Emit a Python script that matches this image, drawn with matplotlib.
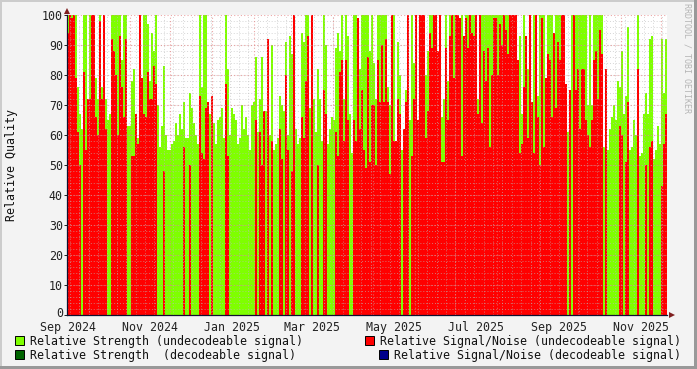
import datetime as dt
import matplotlib
matplotlib.use("Agg")
import matplotlib.pyplot as plt
from matplotlib.patches import Rectangle
from matplotlib.transforms import ScaledTranslation

strength_a = [100,100,100,100,100,76,67,62,100,100,72,100,100,100,79,72,100,76,77,72,65,67,100,100,100,100,100,85,100,100,63,63,78,82,60,59,100,69,100,100,97,78,94,88,100,70,56,63,83,60]
strength_b = [55,55,57,58,64,60,67,62,71,59,59,74,69,64,60,57,100,76,100,100,71,67,73,64,57,65,66,69,59,100,82,60,69,67,65,57,59,70,62,66,60,55,70,71,86,61,72,86,60,68]
strength_c = [72,60,90,55,57,59,73,70,68,91,60,93,87,71,62,57,59,94,91,100,100,69,70,72,61,82,72,58,100,90,57,62,66,65,89,94,88,100,72,100,93,67,54,100,100,61,82,100,100,100]
strength_d = [100,88,100,84,72,100,100,100,100,100,76,70,100,100,56,91,80,55,60,75,100,65,100,84,100,65,100,100,100,80,88,100,100,100,100,66,100,66,72,100,78,100,100,100,100,87,78,100,80,100]
strength_e = [100,100,100,100,100,72,100,100,100,100,100,100,100,100,100,100,100,100,100,100,100,100,100,100,85,78,93,67,100,60,82,75,68,100,100,73,100,100,100,77,100,100,100,68,100,100,100,100,88,73]
strength_f = [61,0,100,100,100,100,100,100,100,100,70,100,70,100,100,100,100,100,56,57,55,62,66,70,65,78,76,88,67,73,96,55,56,65,60,100,53,54,67,74,67,92,93,52,55,63,57,92,74,92]

quality_a = [94,100,99,100,79,61,50,0,81,55,72,72,100,100,66,60,98,72,100,62,0,0,92,88,80,60,93,76,66,92,0,0,53,53,67,57,100,79,67,66,81,72,72,83,77,0,0,0,48,0]
quality_b = [0,0,0,0,0,0,0,0,56,0,0,50,0,0,0,0,73,54,52,69,71,0,73,0,0,0,0,0,0,77,53,0,0,0,0,0,0,0,0,0,0,0,0,0,65,0,61,50,68,0]
quality_c = [92,0,58,0,0,0,62,52,0,80,55,0,48,100,0,0,0,66,59,78,93,0,100,0,0,50,0,0,75,67,0,0,0,0,61,53,81,85,58,85,65,0,0,65,58,99,62,75,55,49]
quality_d = [86,51,70,70,50,85,71,90,71,92,71,47,100,58,58,72,67,0,62,71,100,0,53,72,100,65,100,100,100,59,68,94,89,100,100,88,100,51,51,89,65,93,100,79,100,100,99,53,93,99]
quality_e = [89,100,94,93,100,67,100,64,88,78,89,56,80,99,99,80,97,90,100,95,87,100,100,100,100,85,54,57,76,93,59,100,71,54,100,66,50,99,56,79,87,85,66,94,69,91,85,100,100,77]
quality_f = [0,75,0,100,75,82,62,82,82,65,60,56,65,85,88,72,95,87,0,82,0,0,0,0,0,0,63,60,0,51,71,0,0,0,0,82,0,0,0,50,0,56,58,0,0,0,0,43,57,67]

strength = strength_a + strength_b + strength_c + strength_d + strength_e + strength_f
quality = quality_a + quality_b + quality_c + quality_d + quality_e + quality_f

start = dt.date(2024, 9, 15)
days_per_bin = 1.488
span_days = 446.4
month_starts = [dt.date(2024, 10, 1), dt.date(2024, 11, 1), dt.date(2024, 12, 1), dt.date(2025, 1, 1),
                dt.date(2025, 2, 1), dt.date(2025, 3, 1), dt.date(2025, 4, 1), dt.date(2025, 5, 1),
                dt.date(2025, 6, 1), dt.date(2025, 7, 1), dt.date(2025, 8, 1), dt.date(2025, 9, 1),
                dt.date(2025, 10, 1), dt.date(2025, 11, 1), dt.date(2025, 12, 1)]
label_dates = [dt.date(2024, 9, 16), dt.date(2024, 11, 16), dt.date(2025, 1, 16), dt.date(2025, 3, 16),
               dt.date(2025, 5, 16), dt.date(2025, 7, 16), dt.date(2025, 9, 16), dt.date(2025, 11, 16)]
label_texts = ["Sep 2024", "Nov 2024", "Jan 2025", "Mar 2025", "May 2025", "Jul 2025", "Sep 2025", "Nov 2025"]

W, H = 697, 369
mono = "DejaVu Sans Mono"
fs = 8.4
fig = plt.figure(figsize=(W / 100, H / 100), dpi=100, facecolor="#F3F3F3")
fig.add_artist(Rectangle((0, 0), 2 / W, 1, transform=fig.transFigure, color="#CCCCCC", lw=0))
fig.add_artist(Rectangle((0, 1 - 2 / H), 1, 2 / H, transform=fig.transFigure, color="#CCCCCC", lw=0))
fig.add_artist(Rectangle((1 - 3 / W, 0), 3 / W, 1, transform=fig.transFigure, color="#999999", lw=0))
fig.add_artist(Rectangle((0, 0), 1, 3 / H, transform=fig.transFigure, color="#999999", lw=0))

ax = fig.add_axes([67 / W, 1 - 315 / H, 600 / W, 300 / H], facecolor="white")
xs = [(i + 0.5) * days_per_bin for i in range(len(strength))]


def red_width(i):
    left = quality[i - 1] if i > 0 else 0
    right = quality[i + 1] if i + 1 < len(quality) else 0
    isolated = left < quality[i] - 12 and right < quality[i] - 12
    return days_per_bin * (0.55 if isolated else 1.0)


ax.bar(xs, strength, width=days_per_bin, color="#7FFF00", lw=0, zorder=2)
ax.bar(xs, quality, width=[red_width(i) for i in range(len(quality))], color="#FF0000", lw=0, zorder=3)
ax.set_xlim(0, span_days)
ax.set_ylim(0, 100)

minor_x = [7 * k + 2 for k in range(64)]
for v in minor_x:
    ax.axvline(v, color="#BBBBBB", lw=0.7, ls=(0, (1, 2)), alpha=0.6, zorder=4)
for v in range(2, 100, 2):
    ax.axhline(v, color="#BBBBBB", lw=0.7, ls=(0, (1, 2)), alpha=0.6, zorder=4)
for m in month_starts:
    ax.axvline((m - start).days, color="#E58080", lw=0.8, ls=(0, (1, 2)), alpha=0.7, zorder=5)
for v in range(10, 101, 10):
    ax.axhline(v, color="#E58080", lw=0.8, ls=(0, (1, 2)), alpha=0.7, zorder=5)

for s in ("top", "right"):
    ax.spines[s].set_visible(False)
for s in ("left", "bottom"):
    ax.spines[s].set_color("#101030")
    ax.spines[s].set_linewidth(0.9)
    ax.spines[s].set_zorder(6)

ax.set_yticks(range(0, 101, 10))
ax.set_xticks([(d - start).days for d in label_dates])
ax.set_xticklabels(label_texts)
ax.tick_params(axis="x", length=0, pad=4.5, labelsize=fs, labelfontfamily=mono, colors="#222222")
ax.tick_params(axis="y", length=2, width=0.7, pad=1, labelsize=fs, labelfontfamily=mono, colors="#222222")
zero_label = ax.get_yticklabels()[0]
zero_label.set_transform(zero_label.get_transform() + ScaledTranslation(0, 2 / 72, fig.dpi_scale_trans))

ax.plot([0], [1.012], transform=ax.transAxes, marker="^", ms=4, color="#7F1F1F", clip_on=False, zorder=7,
        markeredgewidth=0, ls="none")
ax.plot([1.008], [0], transform=ax.transAxes, marker=">", ms=4, color="#7F1F1F", clip_on=False, zorder=7,
        markeredgewidth=0, ls="none")

fig.text(12 / W, 1 - 165 / H, "Relative Quality", rotation=90, family=mono, fontsize=fs,
         ha="center", va="center", color="#111111")
fig.text(687 / W, 1 - 3 / H, "RRDTOOL / TOBI OETIKER", rotation=270, family=mono, fontsize=6,
         ha="center", va="top", color="#B5B5B5")

legend_rows = [
    (15, 336, 30, "#7FFF00", "Relative Strength (undecodeable signal)"),
    (365, 336, 380, "#FF0000", "Relative Signal/Noise (undecodeable signal)"),
    (15, 350, 30, "#006400", "Relative Strength  (decodeable signal)"),
    (379, 350, 394, "#00008B", "Relative Signal/Noise (decodeable signal)"),
]
for sx, sy, tx, col, txt in legend_rows:
    fig.add_artist(Rectangle((sx / W, 1 - (sy + 9) / H), 9 / W, 9 / H, transform=fig.transFigure,
                             facecolor=col, edgecolor="black", lw=0.7))
    fig.text(tx / W, 1 - (sy + 5) / H, txt, family=mono, fontsize=fs, ha="left", va="center", color="#111111")

fig.savefig("out.png", dpi=100, facecolor=fig.get_facecolor())
